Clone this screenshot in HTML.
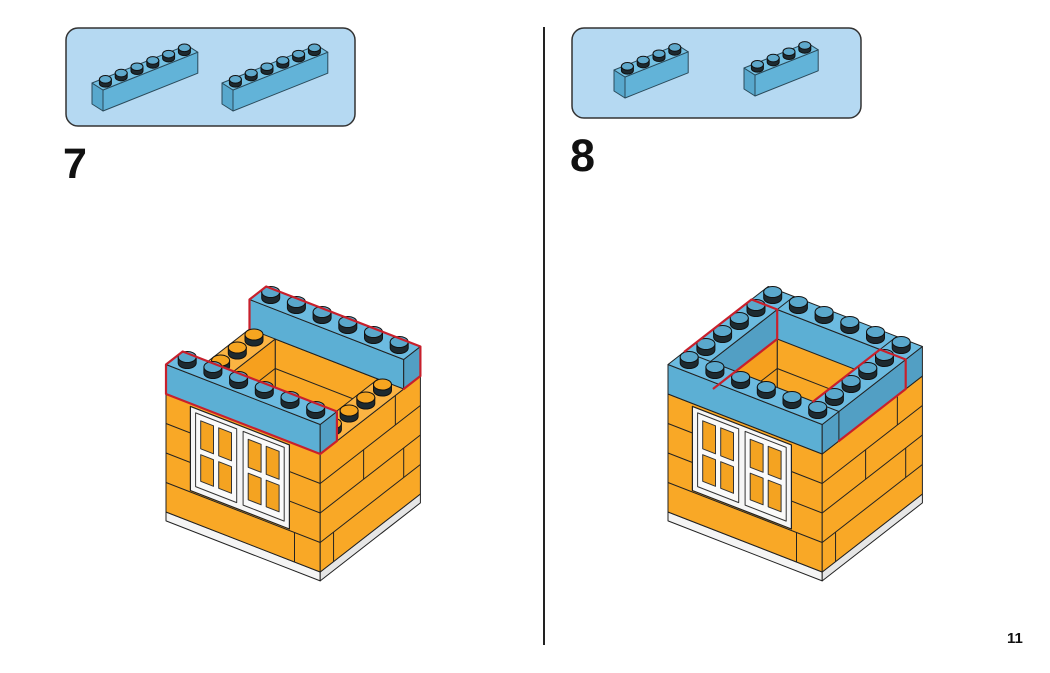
<!DOCTYPE html>
<html><head><meta charset="utf-8"><style>
html,body{margin:0;padding:0;background:#fff;}
#wrap{position:relative;width:1050px;height:673px;overflow:hidden;font-family:"Liberation Sans",sans-serif;}
.num{position:absolute;font-weight:bold;color:#111;line-height:1;}
</style></head><body><div id="wrap">
<svg id="s" width="1050" height="673" viewBox="0 0 1050 673" style="position:absolute;left:0;top:0"></svg>
<div class="num" style="left:63px;top:143px;font-size:43px">7</div>
<div class="num" style="left:570px;top:133px;font-size:45px">8</div>
<div class="num" style="left:1007px;top:631px;font-size:15px">11</div>
</div>
<script>
var out=[];
function pts(a){return a.map(function(p){return p[0].toFixed(1)+','+p[1].toFixed(1)}).join(' ');}
function poly(a,f,s,w,extra){out.push('<polygon points="'+pts(a)+'" fill="'+f+'" stroke="'+(s||'#222')+'" stroke-width="'+(w||1)+'" stroke-linejoin="round" '+(extra||'')+'/>');}
function pline(a,s,w){out.push('<polyline points="'+pts(a)+'" fill="none" stroke="'+s+'" stroke-width="'+w+'" stroke-linejoin="round" stroke-linecap="round"/>');}
function line(p,q,s,w){out.push('<line x1="'+p[0]+'" y1="'+p[1]+'" x2="'+q[0]+'" y2="'+q[1]+'" stroke="'+(s||'#222')+'" stroke-width="'+(w||1)+'"/>');}
function stud(x,y,rx,ry,h,top){
 out.push('<path d="M'+(x-rx)+','+(y-h)+' L'+(x-rx)+','+y+' A'+rx+','+ry+' 0 0 0 '+(x+rx)+','+y+' L'+(x+rx)+','+(y-h)+' Z" fill="#1d2a30" stroke="#111" stroke-width="1"/>');
 out.push('<ellipse cx="'+x+'" cy="'+(y-h)+'" rx="'+rx+'" ry="'+ry+'" fill="'+top+'" stroke="#111" stroke-width="1"/>');
}
// callouts
out.push('<rect x="66" y="28" width="289" height="98" rx="12" fill="#b5d9f2" stroke="#333" stroke-width="1.5"/>');
out.push('<rect x="572" y="28" width="289" height="90" rx="12" fill="#b5d9f2" stroke="#333" stroke-width="1.5"/>');
out.push('<rect x="543" y="27" width="2" height="618" fill="#222"/>');
function cbrick(cx,cy,n){
 var L=[15.8,-6.3],D=[-11,-7],H=21;
 cy+=H;
 function p(i,d,z){return [cx+L[0]*i+D[0]*d, cy+L[1]*i+D[1]*d - H*z];}
 poly([p(0,0,0),p(n,0,0),p(n,0,1),p(0,0,1)],'#62b3d8','#2a4a5a',1);
 poly([p(0,0,0),p(0,1,0),p(0,1,1),p(0,0,1)],'#58a8cd','#2a4a5a',1);
 poly([p(0,0,1),p(n,0,1),p(n,1,1),p(0,1,1)],'#74c0e2','#2a4a5a',1);
 for(var i=0;i<n;i++){var c=p(i+0.5,0.5,1);stud(c[0],c[1],6,3.8,4,'#5fa9cc');}
}
cbrick(103,90,6);cbrick(233,90,6);cbrick(625,77,4);cbrick(755,75,4);

// houses
var OR='#f9a826',ORT='#fbb443',ORD='#ef9a1a',BL='#5cafd4',BLT='#6cbbe0',BLD='#529fc4',RED='#c8202c';
function house(ox,step){
 function P(a,b,z){return [166+ox+25.7*a+16.7*b, 512+10*a-13*b-29.5*z];}
 poly([P(0,0,-0.3),P(6,0,-0.3),P(6,0,0),P(0,0,0)],'#f4f4f4');
 poly([P(6,0,-0.3),P(6,6,-0.3),P(6,6,0),P(6,0,0)],'#e6e6e6');
 poly([P(0,0,0),P(6,0,0),P(6,0,4),P(0,0,4)],OR);
 poly([P(6,0,0),P(6,6,0),P(6,6,4),P(6,0,4)],OR);
 for(var z=1;z<4;z++){line(P(0,0,z),P(6,0,z));line(P(6,0,z),P(6,6,z));}
 line(P(6,0.8,0),P(6,0.8,1));line(P(6,5,1),P(6,5,2));line(P(6,2.6,2),P(6,2.6,3));line(P(6,4.5,3),P(6,4.5,4));
 line(P(5,0,0),P(5,0,1));
 poly([P(0.95,0,1.05),P(4.8,0,1.05),P(4.8,0,3.9),P(0.95,0,3.9)],'#f6f6f6','#222',1.2);
 [[1.15,2.75],[3.0,4.6]].forEach(function(r){
  poly([P(r[0],0,1.25),P(r[1],0,1.25),P(r[1],0,3.75),P(r[0],0,3.75)],'#fafafa','#333',1);
  var m=(r[0]+r[1])/2;
  [[r[0]+0.2,m-0.1],[m+0.1,r[1]-0.2]].forEach(function(c){
   [[1.5,2.4],[2.6,3.55]].forEach(function(zz){
    poly([P(c[0],0,zz[0]),P(c[1],0,zz[0]),P(c[1],0,zz[1]),P(c[0],0,zz[1])],'#f4a321','#333',1);
   });
  });
 });
 var hid='h'+ox;
 if(step==7){
  poly([P(0,0,4),P(6,0,4),P(6,6,4),P(0,6,4)],ORT);
  var hol=[P(1,1,4),P(5,1,4),P(5,5,4),P(1,5,4)];
  out.push('<clipPath id="'+hid+'"><polygon points="'+pts(hol)+'"/></clipPath>');
  out.push('<g clip-path="url(#'+hid+')">');
  poly([P(1,1,1),P(5,1,1),P(5,5,1),P(1,5,1)],ORD);
  poly([P(1,5,4),P(5,5,4),P(5,5,1),P(1,5,1)],OR);
  poly([P(1,1,4),P(1,5,4),P(1,5,1),P(1,1,1)],'#f6a01e');
  line(P(1,5,3),P(5,5,3));line(P(1,1,3),P(1,5,3));
  out.push('</g>');
  poly(hol,'none');
  line(P(1,0,4),P(1,1,4));line(P(5,0,4),P(5,1,4));
  poly([P(0,5,4),P(6,5,4),P(6,5,5),P(0,5,5)],BL);
  poly([P(6,5,4),P(6,6,4),P(6,6,5),P(6,5,5)],BLD);
  poly([P(0,5,5),P(6,5,5),P(6,6,5),P(0,6,5)],BLT);
  for(var i=0;i<6;i++){var c=P(i+0.5,5.5,5);stud(c[0],c[1],9,5.5,6,'#5aa8cc');}
  pline([P(0,5,4),P(0,5,5),P(0,6,5),P(6,6,5),P(6,6,4),P(6,5,4)],RED,2.2);
  for(var b=4;b>=1;b--){[0.5,5.5].forEach(function(a){var c=P(a,b+0.5,4);stud(c[0],c[1],9,5.5,6,'#f6a520');});}
  poly([P(0,0,4),P(6,0,4),P(6,0,5),P(0,0,5)],BL);
  poly([P(6,0,4),P(6,1,4),P(6,1,5),P(6,0,5)],BLD);
  poly([P(0,0,5),P(6,0,5),P(6,1,5),P(0,1,5)],BLT);
  for(var i=0;i<6;i++){var c=P(i+0.5,0.5,5);stud(c[0],c[1],9,5.5,6,'#5aa8cc');}
  poly([P(0,0,4),P(6,0,4),P(6,1,4),P(6,1,5),P(0,1,5),P(0,0,5)],'none',RED,2.2);
 } else {
  poly([P(0,0,4),P(6,0,4),P(6,0,5),P(0,0,5)],BL);
  poly([P(6,0,4),P(6,6,4),P(6,6,5),P(6,0,5)],BLD);
  poly([P(0,0,5),P(6,0,5),P(6,6,5),P(0,6,5)],BLT);
  var hol=[P(1,1,5),P(5,1,5),P(5,5,5),P(1,5,5)];
  out.push('<clipPath id="'+hid+'"><polygon points="'+pts(hol)+'"/></clipPath>');
  out.push('<g clip-path="url(#'+hid+')">');
  poly([P(1,1,1),P(5,1,1),P(5,5,1),P(1,5,1)],ORD);
  poly([P(1,5,5),P(5,5,5),P(5,5,1),P(1,5,1)],OR);
  poly([P(1,1,5),P(1,5,5),P(1,5,1),P(1,1,1)],'#f6a01e');
  poly([P(1,5,5),P(5,5,5),P(5,5,4),P(1,5,4)],BL);
  poly([P(1,1,5),P(1,5,5),P(1,5,4),P(1,1,4)],BLD);
  line(P(1,5,3),P(5,5,3));line(P(1,1,3),P(1,5,3));
  out.push('</g>');
  poly(hol,'none');
  line(P(6,1,4),P(6,1,5));line(P(6,5,4),P(6,5,5));
  line(P(1,1,5),P(0,1,5));line(P(1,5,5),P(1,6,5));line(P(5,1,5),P(6,1,5));line(P(5,5,5),P(5,6,5));
  var cells=[];
  for(var a=0;a<6;a++){cells.push([a,0]);cells.push([a,5]);}
  for(var b=1;b<5;b++){cells.push([0,b]);cells.push([5,b]);}
  cells.forEach(function(c){c.y=P(c[0]+0.5,c[1]+0.5,5)[1];});
  cells.sort(function(p,q){return p.y-q.y;});
  cells.forEach(function(c){var p=P(c[0]+0.5,c[1]+0.5,5);stud(p[0],p[1],9,5.5,6,'#5aa8cc');});
  pline([P(0,1,5),P(0,5,5),P(1,5,5),P(1,5,4),P(1,1.2,4)],RED,2.2);
  pline([P(5,1,5),P(5,5,5),P(6,5,5),P(6,5,4),P(6,1,4)],RED,2.2);
 }
}
house(0,7);house(502,8);
document.getElementById('s').innerHTML=out.join('');
</script>
</body></html>
